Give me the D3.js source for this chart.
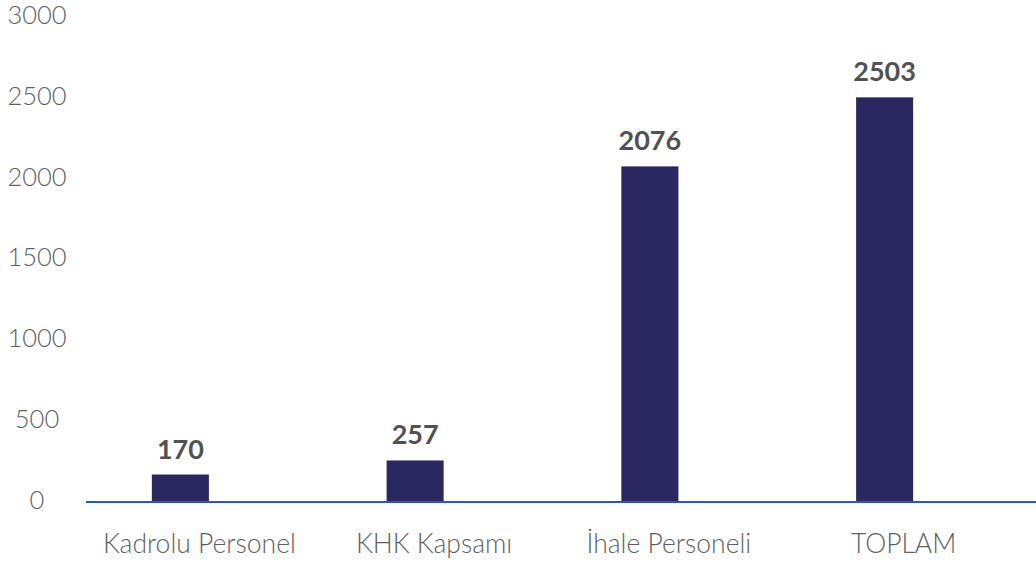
<!DOCTYPE html>
<html>
<head>
<meta charset="utf-8">
<script src="https://cdn.jsdelivr.net/npm/d3@7"></script>
<style>
  html, body { margin: 0; padding: 0; background: #ffffff; }
  svg { display: block; }
</style>
</head>
<body>
<svg id="chart" width="1036" height="567"></svg>
<script>
const categories = ["Kadrolu Personel", "KHK Kapsamı", "İhale Personeli", "TOPLAM"];
const values = [170, 257, 2076, 2503];
const tickValues = [0, 500, 1000, 1500, 2000, 2500, 3000];

const W = 1036, H = 567;
const svg = d3.select("#chart");

const x = d3.scaleBand()
  .domain(categories)
  .range([63, 1002])
  .paddingInner(0.757)
  .paddingOuter(0.757 / 2);

const y = d3.scaleLinear()
  .domain([0, 3000])
  .range([502, 17]);

// y tick labels
svg.append("g").selectAll("text")
  .data(tickValues)
  .join("text")
  .attr("x", 37)
  .attr("y", d => y(d) - 2)
  .attr("dy", "0.35em")
  .attr("text-anchor", "middle")
  .attr("font-family", "Lato, 'Open Sans', sans-serif")
  .attr("font-weight", 300)
  .attr("font-size", 25.5)
  .attr("fill", "#5f5f5f")
  .text(d => d);

// bars
svg.append("g").selectAll("rect")
  .data(values)
  .join("rect")
  .attr("x", (d, i) => x(categories[i]))
  .attr("width", x.bandwidth())
  .attr("y", d => y(d))
  .attr("height", d => y(0) - y(d))
  .attr("fill", "#2b2760");

// axis baseline
svg.append("line")
  .attr("x1", 86).attr("x2", W)
  .attr("y1", y(0)).attr("y2", y(0))
  .attr("stroke", "#2160a9")
  .attr("stroke-width", 2);

// value labels
svg.append("g").selectAll("text")
  .data(values)
  .join("text")
  .attr("x", (d, i) => x(categories[i]) + x.bandwidth() / 2)
  .attr("y", d => y(d) - 16)
  .attr("text-anchor", "middle")
  .attr("font-family", "Lato, 'Open Sans', sans-serif")
  .attr("font-weight", 700)
  .attr("font-size", 27)
  .attr("fill", "#525252")
  .text(d => d);

// category labels
svg.append("g").selectAll("text")
  .data(categories)
  .join("text")
  .attr("x", d => x(d) + x.bandwidth() / 2 + 19)
  .attr("y", 553)
  .attr("text-anchor", "middle")
  .attr("font-family", "Lato, 'Open Sans', sans-serif")
  .attr("font-weight", 300)
  .attr("font-size", 26.5)
  .attr("fill", "#5f5f5f")
  .text(d => d);
</script>
</body>
</html>
